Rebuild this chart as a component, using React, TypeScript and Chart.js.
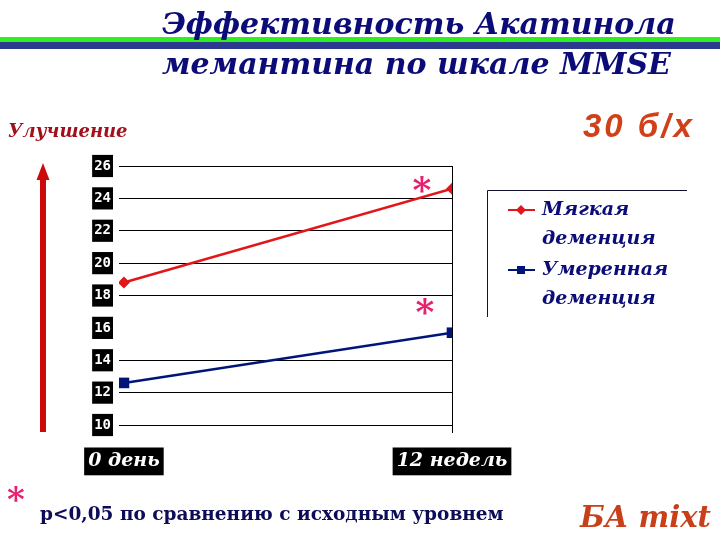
import React, { useEffect, useRef } from "react";
import { Chart, registerables } from "chart.js";

Chart.register(...registerables);

const xLabels = ["0 день", "12 недель"];
const mildValues = [18.8, 24.6];
const moderateValues = [12.6, 15.7];
const seriesNames = ["Мягкая деменция", "Умеренная деменция"];
const titleLines = ["Эффективность Акатинола", "мемантина по шкале MMSE"];
const yMin = 10;
const yMax = 26;
const yStep = 2;

const SERIF = "'DejaVu Serif', serif";
const NAVY = "#0c0c78";
const RED = "#e2161a";
const BLUE = "#00147a";
const PINK = "#e8206e";

const decorPlugin = {
  id: "decor",
  beforeDraw(chart: any) {
    const ctx = chart.ctx;
    ctx.save();
    ctx.fillStyle = "#ffffff";
    ctx.fillRect(0, 0, chart.width, chart.height);
    // stripes
    ctx.fillStyle = "#2ef01e";
    ctx.fillRect(0, 37, chart.width, 5);
    ctx.fillStyle = "#2b3a8e";
    ctx.fillRect(0, 42, chart.width, 7);
    // title
    ctx.fillStyle = NAVY;
    ctx.textBaseline = "alphabetic";
    ctx.textAlign = "left";
    ctx.font = `italic bold 30px ${SERIF}`;
    ctx.fillText(titleLines[0], 162, 34);
    ctx.fillText(titleLines[1], 162, 74);
    // side labels
    ctx.fillStyle = "#a3101c";
    ctx.font = `italic bold 18px ${SERIF}`;
    ctx.fillText("Улучшение", 8, 137);
    ctx.fillStyle = "#d2401a";
    ctx.font = "italic bold 33px 'Liberation Sans', sans-serif";
    (ctx as any).letterSpacing = "3px";
    ctx.fillText("30 б/х", 583, 137);
    (ctx as any).letterSpacing = "0px";
    // arrow
    ctx.fillStyle = "#cc0a0a";
    ctx.fillRect(40, 178, 6, 254);
    ctx.beginPath();
    ctx.moveTo(43, 163);
    ctx.lineTo(36.5, 180);
    ctx.lineTo(49.5, 180);
    ctx.closePath();
    ctx.fill();
    // footnote
    ctx.fillStyle = PINK;
    ctx.font = `bold 34px ${SERIF}`;
    ctx.fillText("*", 7, 511);
    ctx.fillStyle = "#0c0c58";
    ctx.font = `bold 18.5px ${SERIF}`;
    ctx.fillText("p<0,05 по сравнению с исходным уровнем", 40, 520);
    ctx.fillStyle = "#c8401a";
    ctx.font = `italic bold 29px ${SERIF}`;
    ctx.fillText("БА mixt", 580, 527);
    ctx.restore();
  },
  afterDatasetsDraw(chart: any) {
    const ctx = chart.ctx;
    ctx.save();
    ctx.fillStyle = PINK;
    ctx.font = `bold 36px ${SERIF}`;
    ctx.textAlign = "center";
    ctx.textBaseline = "middle";
    const p0 = chart.getDatasetMeta(0).data[1];
    const p1 = chart.getDatasetMeta(1).data[1];
    if (p0) ctx.fillText("*", p0.x - 30, p0.y + 4);
    if (p1) ctx.fillText("*", p1.x - 27, p1.y - 18);
    ctx.restore();
  },
  afterDraw(chart: any) {
    const ctx = chart.ctx;
    ctx.save();
    // legend frame
    ctx.strokeStyle = "#101030";
    ctx.lineWidth = 1;
    ctx.beginPath();
    ctx.moveTo(487.5, 317);
    ctx.lineTo(487.5, 190.5);
    ctx.lineTo(687, 190.5);
    ctx.stroke();
    chart.data.datasets.forEach((ds: any, i: number) => {
      const cy = 210 + i * 60;
      ctx.strokeStyle = ds.borderColor;
      ctx.lineWidth = 2;
      ctx.beginPath();
      ctx.moveTo(508, cy);
      ctx.lineTo(535, cy);
      ctx.stroke();
      ctx.fillStyle = ds.backgroundColor;
      ctx.beginPath();
      if (ds.pointStyle === "rectRot") {
        ctx.moveTo(521, cy - 5);
        ctx.lineTo(526, cy);
        ctx.lineTo(521, cy + 5);
        ctx.lineTo(516, cy);
        ctx.closePath();
      } else {
        ctx.rect(517, cy - 4, 8, 8);
      }
      ctx.fill();
      ctx.fillStyle = NAVY;
      ctx.font = `italic bold 19px ${SERIF}`;
      ctx.textAlign = "left";
      ctx.textBaseline = "middle";
      const parts = String(ds.label).split(" ");
      parts.forEach((t: string, j: number) => {
        ctx.fillText(t, 542, cy + j * 29);
      });
    });
    ctx.restore();
  },
};

export default function App() {
  const ref = useRef<HTMLCanvasElement | null>(null);
  useEffect(() => {
    if (!ref.current) return;
    const chart = new Chart(ref.current, {
      type: "line",
      data: {
        datasets: [
          {
            label: seriesNames[0],
            data: mildValues.map((v, i) => ({ x: i, y: v })),
            borderColor: RED,
            backgroundColor: RED,
            borderWidth: 2.5,
            pointStyle: "rectRot",
            pointRadius: 6,
            pointBorderWidth: 0,
          },
          {
            label: seriesNames[1],
            data: moderateValues.map((v, i) => ({ x: i, y: v })),
            borderColor: BLUE,
            backgroundColor: BLUE,
            borderWidth: 2.5,
            pointStyle: "rect",
            pointRadius: 7.5,
            pointBorderWidth: 0,
          },
        ],
      },
      options: {
        animation: false,
        responsive: false,
        layout: { padding: { top: 166, left: 0, right: 268, bottom: 0 } },
        plugins: {
          legend: { display: false },
          tooltip: { enabled: false },
          title: { display: false },
        },
        scales: {
          x: {
            type: "linear",
            min: -0.015,
            max: 1,
            afterBuildTicks: (axis: any) => {
              axis.ticks = xLabels.map((_, i) => ({ value: i }));
            },
            afterFit: (axis: any) => {
              axis.height = 115;
            },
            border: { display: false },
            grid: {
              drawTicks: true,
              tickLength: 8,
              color: (c: any) => (c.tick && c.tick.value === 1 ? "#000000" : "rgba(0,0,0,0)"),
              tickColor: (c: any) => (c.tick && c.tick.value === 1 ? "#000000" : "rgba(0,0,0,0)"),
              lineWidth: 1,
            },
            ticks: {
              callback: (v: any) => xLabels[Number(v)] ?? "",
              color: "#ffffff",
              font: { family: SERIF, size: 19, style: "italic", weight: "bold", lineHeight: 1.2 },
              padding: 17,
              showLabelBackdrop: true,
              backdropColor: "#000000",
              backdropPadding: { top: 2.5, bottom: 2.5, left: 4, right: 4 },
              maxRotation: 0,
              autoSkip: false,
            },
          },
          y: {
            min: yMin,
            max: yMax,
            afterFit: (axis: any) => {
              axis.width = 119;
            },
            border: { display: false },
            grid: {
              drawTicks: false,
              color: (c: any) => (c.tick && c.tick.value === 16 ? "rgba(0,0,0,0)" : "#000000"),
              lineWidth: 1,
            },
            ticks: {
              stepSize: yStep,
              color: "#ffffff",
              font: { family: "'DejaVu Sans Mono', monospace", size: 14, weight: "bold", lineHeight: 1.3 },
              padding: 8,
              showLabelBackdrop: true,
              backdropColor: "#000000",
              backdropPadding: 2,
            },
          },
        },
      },
      plugins: [decorPlugin],
    } as any);
    return () => chart.destroy();
  }, []);
  return (
    <div style={{ position: "fixed", left: 0, top: 0, width: 720, height: 540, background: "#fff" }}>
      <canvas ref={ref} width={720} height={540} style={{ width: 720, height: 540, display: "block" }} />
    </div>
  );
}
